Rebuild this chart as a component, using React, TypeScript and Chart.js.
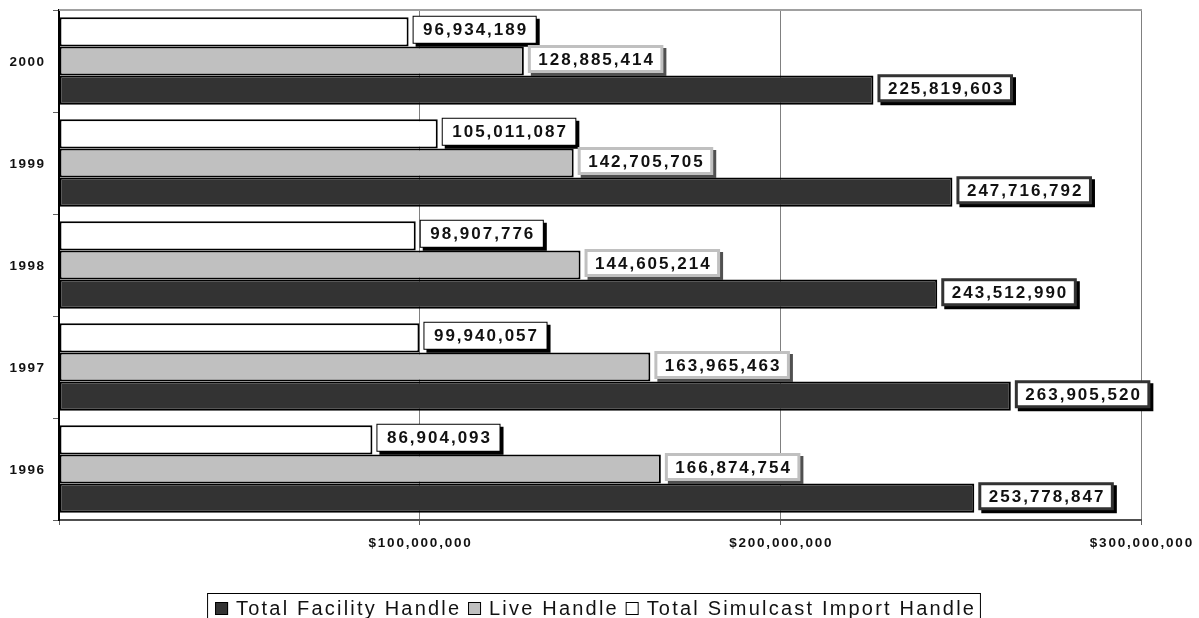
import React, { useEffect, useRef } from "react";
import { Chart, registerables } from "chart.js";

Chart.register(...registerables);

const years = ["2000", "1999", "1998", "1997", "1996"];
const simulcastHandle = [96934189, 105011087, 98907776, 99940057, 86904093];
const liveHandle = [128885414, 142705705, 144605214, 163965463, 166874754];
const facilityHandle = [225819603, 247716792, 243512990, 263905520, 253778847];
const xTicks = [100000000, 200000000, 300000000];
const legendOrder = ["Total Facility Handle", "Live Handle", "Total Simulcast Import Handle"];

const FONT = '"Liberation Sans", Arial, Helvetica, sans-serif';

function fmt(n: number) {
  return n.toLocaleString("en-US");
}

function spacedWidth(ctx: CanvasRenderingContext2D, text: string, ls: number) {
  ctx.letterSpacing = ls + "px";
  const w = ctx.measureText(text).width;
  return w - ls;
}

const labelStyles = [
  { border: "#000000", bw: 1, shadow: "#000000" },
  { border: "#c0c0c0", bw: 3, shadow: "#505050" },
  { border: "#333333", bw: 3, shadow: "#000000" },
];

const customPlugin = {
  id: "custom",
  beforeDraw(chart: any) {
    const ctx = chart.ctx as CanvasRenderingContext2D;
    ctx.save();
    ctx.fillStyle = "#ffffff";
    ctx.fillRect(0, 0, chart.width, chart.height);
    ctx.restore();
  },
  afterDraw(chart: any) {
    const ctx = chart.ctx as CanvasRenderingContext2D;
    const area = chart.chartArea;
    const xs = chart.scales.x;
    const ys = chart.scales.y;
    ctx.save();
    // top border
    ctx.strokeStyle = "#a0a0a0";
    ctx.lineWidth = 2;
    ctx.beginPath();
    ctx.moveTo(area.left, area.top);
    ctx.lineTo(area.right + 1, area.top);
    ctx.stroke();

    // value labels
    ctx.font = `bold 17px ${FONT}`;
    ctx.textBaseline = "middle";
    const ls = 2;
    chart.data.datasets.forEach((ds: any, di: number) => {
      const meta = chart.getDatasetMeta(di);
      const st = labelStyles[di];
      meta.data.forEach((bar: any, i: number) => {
        const text = fmt(ds.data[i]);
        const tw = spacedWidth(ctx, text, ls);
        const x0 = bar.x + 4;
        const h = 28;
        const y0 = bar.y - 16;
        const w = tw + 21;
        ctx.fillStyle = st.shadow;
        ctx.fillRect(x0 + 3, y0 + 3, w, h);
        ctx.fillStyle = st.border;
        ctx.fillRect(x0, y0, w, h);
        ctx.fillStyle = "#ffffff";
        ctx.fillRect(x0 + st.bw, y0 + st.bw, w - 2 * st.bw, h - 2 * st.bw);
        ctx.fillStyle = "#111111";
        ctx.textAlign = "left";
        ctx.letterSpacing = ls + "px";
        ctx.fillText(text, x0 + 10.5, y0 + h / 2 + 1);
      });
    });

    // x tick labels
    ctx.font = `bold 13.5px ${FONT}`;
    ctx.fillStyle = "#111111";
    const xls = 1.8;
    xTicks.forEach((v) => {
      const t = "$" + fmt(v);
      const tw = spacedWidth(ctx, t, xls);
      const px = xs.getPixelForValue(v);
      ctx.fillText(t, px - tw / 2, 543);
    });

    // y tick labels
    const yls = 1.5;
    ctx.font = `bold 13.5px ${FONT}`;
    years.forEach((y, i) => {
      const tw = spacedWidth(ctx, y, yls);
      const py = ys.getPixelForValue(i);
      ctx.fillText(y, 44 - tw, py + 1);
    });

    // legend
    const colors = ["#333333", "#c0c0c0", "#ffffff"];
    ctx.font = `20px ${FONT}`;
    const lls = 2.2;
    const sw = 13;
    const gapSwText = 8;
    const gapItems = 9;
    const widths = legendOrder.map((t) => spacedWidth(ctx, t, lls));
    const total =
      widths.reduce((a, b) => a + b, 0) + legendOrder.length * (sw + gapSwText) + (legendOrder.length - 1) * gapItems;
    let lx = chart.width / 2 - total / 2 - 5;
    const boxL = lx - 8;
    const boxR = lx + total + 6;
    ctx.strokeStyle = "#000000";
    ctx.lineWidth = 1;
    ctx.strokeRect(boxL + 0.5, 593.5, boxR - boxL, 40);
    const ly = 609;
    legendOrder.forEach((t, i) => {
      ctx.fillStyle = colors[i];
      ctx.fillRect(lx, ly - 7, sw, sw);
      ctx.strokeStyle = "#000000";
      ctx.lineWidth = 1;
      ctx.strokeRect(lx + 0.5, ly - 6.5, sw - 1, sw - 1);
      lx += sw + gapSwText;
      ctx.fillStyle = "#111111";
      ctx.letterSpacing = lls + "px";
      ctx.fillText(t, lx, ly);
      lx += widths[i] + gapItems;
    });
    ctx.restore();
  },
};

export default function App() {
  const ref = useRef<HTMLCanvasElement>(null);
  useEffect(() => {
    document.body.style.margin = "0";
    const chart = new Chart(ref.current!, {
      type: "bar",
      data: {
        labels: years,
        datasets: [
          {
            label: "Total Simulcast Import Handle",
            data: simulcastHandle,
            backgroundColor: "#ffffff",
            borderColor: "#000000",
            borderWidth: 2,
            borderSkipped: false,
          },
          {
            label: "Live Handle",
            data: liveHandle,
            backgroundColor: "#c0c0c0",
            borderColor: "#000000",
            borderWidth: 2,
            borderSkipped: false,
          },
          {
            label: "Total Facility Handle",
            data: facilityHandle,
            backgroundColor: "#333333",
            borderColor: "#000000",
            borderWidth: 2,
            borderSkipped: false,
          },
        ],
      },
      options: {
        indexAxis: "y",
        animation: false,
        responsive: false,
        maintainAspectRatio: false,
        layout: { padding: { left: 0, top: 10, right: 58, bottom: 58 } },
        plugins: { legend: { display: false }, tooltip: { enabled: false } },
        datasets: { bar: { categoryPercentage: 0.86, barPercentage: 1 } },
        scales: {
          x: {
            min: 0,
            max: 300000000,
            ticks: { display: false, stepSize: 100000000 },
            grid: { color: "#808080", lineWidth: 1, drawTicks: true, tickLength: 5, tickColor: "#606060" },
            border: { display: true, color: "#505050", width: 2 },
            afterFit: (s: any) => {
              s.height = 40;
            },
          },
          y: {
            ticks: { display: false },
            grid: { drawOnChartArea: false, drawTicks: true, tickLength: 6, color: "#606060", offset: true },
            border: { display: true, color: "#000000", width: 2 },
            afterFit: (s: any) => {
              s.width = 59;
            },
          },
        },
      },
      plugins: [customPlugin],
    } as any);
    return () => chart.destroy();
  }, []);
  return (
    <div style={{ width: 1199, height: 618 }}>
      <canvas ref={ref} width={1199} height={618} style={{ display: "block" }} />
    </div>
  );
}
